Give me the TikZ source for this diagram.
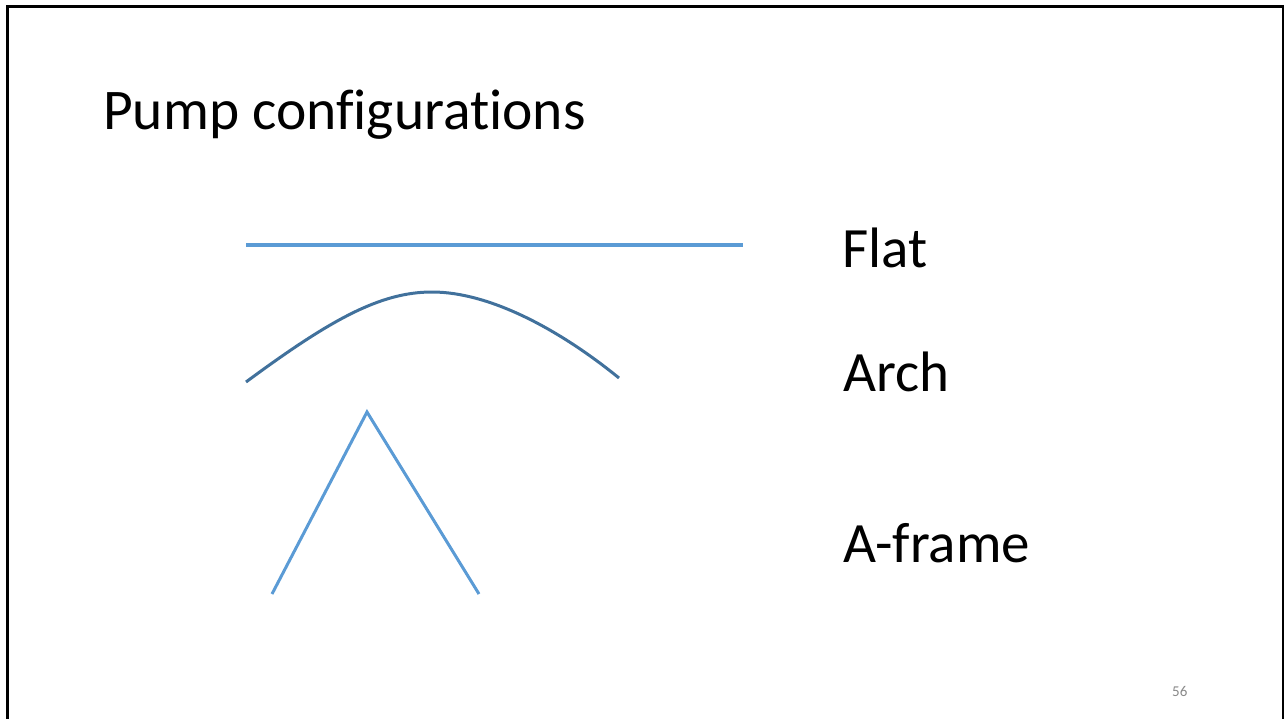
\documentclass[tikz,border=0pt]{standalone}
\usepackage{fontspec}
\setmainfont{Carlito}[Ligatures=NoCommon]
\usepackage{tikz}

\definecolor{flatblue}{HTML}{5B9BD5}
\definecolor{archblue}{HTML}{41719C}
\definecolor{pagegray}{HTML}{898989}

\begin{document}
\begin{tikzpicture}[x=1pt,y=-1pt,
  every node/.style={inner sep=0pt,anchor=base west},
  label/.style={font=\fontsize{57}{62}\selectfont},
  frame/.style={black,line width=2.5pt},
  pump/.style={flatblue,line width=3pt},
  flatpump/.style={pump,line width=4pt},
  archpump/.style={archblue,line width=3pt}]
  % page size in pixels, origin top left
  \useasboundingbox (0,0) rectangle (1284,719);
  \draw[frame] (7.5,719) -- (7.5,6.5) -- (1283,6.5) -- (1283,719);

  \node (title) at (103,130)
    {\fontsize{57.5}{62}\selectfont Pump configurations};

  % the three shapes
  \coordinate (flatL) at (246,245);
  \coordinate (flatR) at (743,245);
  \draw[flatpump] (flatL) -- (flatR);

  \coordinate (archL) at (246,382);
  \coordinate (archTop) at (432,292);
  \coordinate (archR) at (619,378);
  \draw[archpump] (archL) .. controls (330,320) and (380,292) .. (archTop)
    .. controls (490,292) and (560,330) .. (archR);

  \coordinate (frameL) at (272,594);
  \coordinate (frameTop) at (367,412);
  \coordinate (frameR) at (479,594);
  \draw[pump] (frameL) -- (frameTop) -- (frameR);

  % names on the right
  \node[label] (flat) at (842,267) {Flat};
  \node[label] (arch) at (843,391) {Arch};
  \node[label] (aframe) at (843,562) {A-frame};

  \node[pagegray,font=\fontsize{15}{18}\selectfont] (page) at (1172,696) {56};
\end{tikzpicture}
\end{document}
